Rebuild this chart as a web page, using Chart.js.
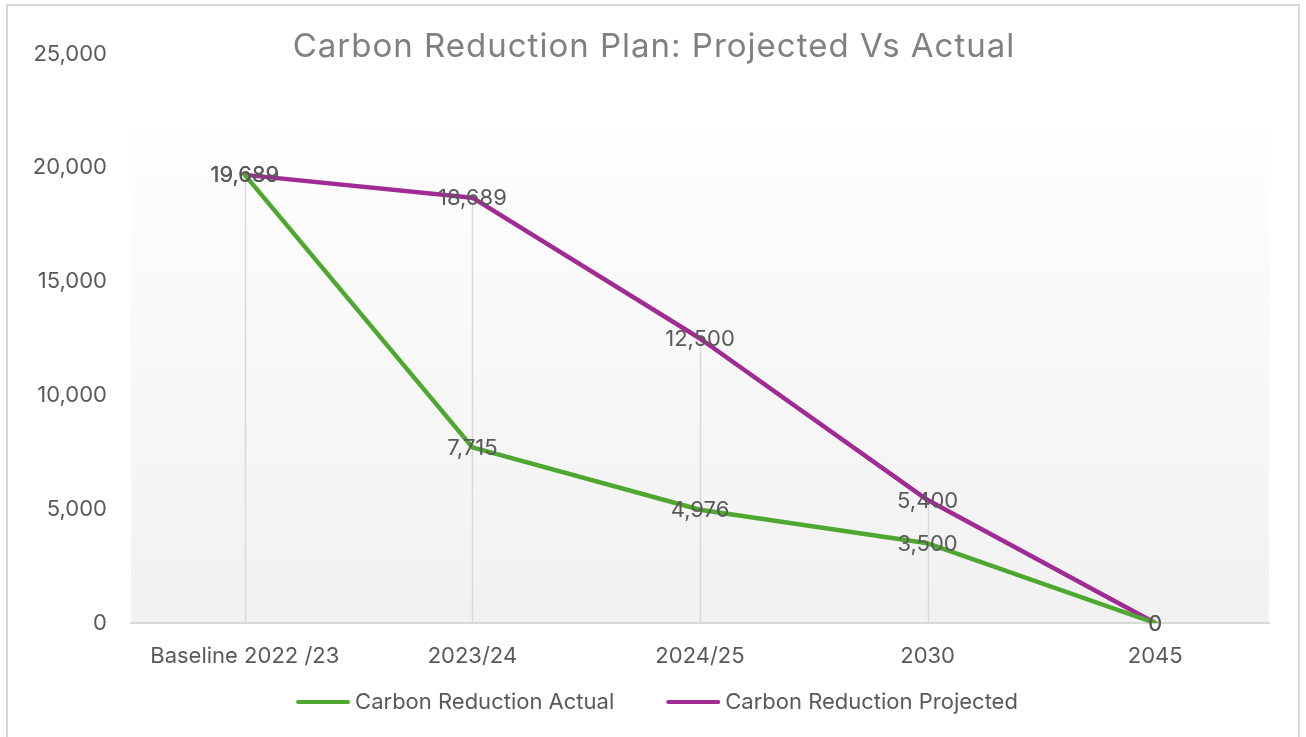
<!DOCTYPE html>
<html>
<head>
<meta charset="utf-8">
<script src="https://cdn.jsdelivr.net/npm/chart.js@4/dist/chart.umd.min.js"></script>
<style>
  html, body { margin: 0; padding: 0; background: #fff; }
  #cadre { width: 1306px; height: 737px; }
</style>
</head>
<body>
<div id="cadre"><canvas id="graphique"></canvas></div>
<script>
const CATEGORIES = ['Baseline 2022 /23', '2023/24', '2024/25', '2030', '2045'];
const REDUCTION_ACTUELLE = [19689, 7715, 4976, 3500, 0];
const REDUCTION_PROJETEE = [19689, 18689, 12500, 5400, 0];
const GRADUATIONS_Y = [0, 5000, 10000, 15000, 20000, 25000];

const TITRE = 'Carbon Reduction Plan: Projected Vs Actual';

const PALETTE = {
  VERT: '#4ea72e',
  VIOLET: '#a02b93',
  TEXTE: '#595959',
  TITRE: '#808080',
  TRAIT: '#d9d9d9',
};

const POLICE = 'Inter, "Liberation Sans", sans-serif';

const formateNombre = (valeur) => Number(valeur).toLocaleString('en-US');

// fond dégradé, cadre, lignes de projection
const decor = {
  id: 'decor',
  beforeDraw: (chart) => {
    const { ctx, chartArea, width, height } = chart;
    ctx.save();
    const haut = chartArea.top + 75;
    const degrade = ctx.createLinearGradient(0, haut, 0, chartArea.bottom);
    degrade.addColorStop(0, '#fefefe');
    degrade.addColorStop(1, '#f1f1f1');
    ctx.fillStyle = degrade;
    ctx.fillRect(chartArea.left, haut, chartArea.right - chartArea.left, chartArea.bottom - haut);
    ctx.strokeStyle = PALETTE.TRAIT;
    ctx.lineWidth = 2;
    ctx.strokeRect(7, 5, width - 14, height + 10);
    ctx.restore();
  },
  beforeDatasetsDraw: (chart) => {
    const { ctx, scales: { x, y } } = chart;
    ctx.save();
    ctx.strokeStyle = PALETTE.TRAIT;
    ctx.lineWidth = 1.5;
    CATEGORIES.forEach((categorie, i) => {
      const max = Math.max(REDUCTION_ACTUELLE[i], REDUCTION_PROJETEE[i]);
      if (max <= 0) return;
      const px = Math.round(x.getPixelForValue(i)) + 0.5;
      ctx.beginPath();
      ctx.moveTo(px, y.getPixelForValue(max));
      ctx.lineTo(px, y.getPixelForValue(0));
      ctx.stroke();
    });
    ctx.restore();
  },
  afterDatasetsDraw: (chart) => {
    const { ctx, width } = chart;
    ctx.save();
    // étiquettes de données
    ctx.font = `22px ${POLICE}`;
    ctx.fillStyle = PALETTE.TEXTE;
    ctx.textAlign = 'center';
    ctx.textBaseline = 'middle';
    chart.data.datasets.forEach((jeu, d) => {
      chart.getDatasetMeta(d).data.forEach((point, i) => {
        ctx.fillText(formateNombre(jeu.data[i]), point.x, point.y + 1);
      });
    });

    // titre
    ctx.font = `33px ${POLICE}`;
    ctx.letterSpacing = '1px';
    ctx.fillStyle = PALETTE.TITRE;
    ctx.fillText(TITRE, width / 2 + 1, 47);
    ctx.letterSpacing = '0px';

    // légende
    ctx.font = `22px ${POLICE}`;
    const largeurTrait = 54;
    const ecart = 5;
    const espace = 52;
    const elements = chart.data.datasets.map((jeu) => ({
      texte: jeu.label,
      couleur: jeu.borderColor,
      largeur: largeurTrait + ecart + ctx.measureText(jeu.label).width,
    }));
    const total = elements.reduce((s, e) => s + e.largeur, 0) + espace * (elements.length - 1);
    let cx = width / 2 + 4 - total / 2;
    const cy = 702;
    ctx.textAlign = 'left';
    elements.forEach((e) => {
      ctx.strokeStyle = e.couleur;
      ctx.lineWidth = 4;
      ctx.lineCap = 'round';
      ctx.beginPath();
      ctx.moveTo(cx + 2, cy);
      ctx.lineTo(cx + largeurTrait - 2, cy);
      ctx.stroke();
      ctx.fillStyle = PALETTE.TEXTE;
      ctx.fillText(e.texte, cx + largeurTrait + ecart, cy);
      cx += e.largeur + espace;
    });
    ctx.restore();
  },
};

const dessineGraphique = ($canevas) => {
  /* eslint-disable no-new */
  new Chart($canevas, {
    type: 'line',
    plugins: [decor],
    data: {
      labels: CATEGORIES,
      datasets: [
        {
          label: 'Carbon Reduction Actual',
          data: REDUCTION_ACTUELLE,
          borderColor: PALETTE.VERT,
          backgroundColor: PALETTE.VERT,
        },
        {
          label: 'Carbon Reduction Projected',
          data: REDUCTION_PROJETEE,
          borderColor: PALETTE.VIOLET,
          backgroundColor: PALETTE.VIOLET,
        },
      ],
    },
    options: {
      responsive: true,
      maintainAspectRatio: false,
      animation: false,
      events: [],
      layout: { padding: { left: 0, top: 54, right: 37, bottom: 0 } },
      elements: {
        line: { borderWidth: 4.5, tension: 0, borderCapStyle: 'round', borderJoinStyle: 'round' },
        point: { radius: 0 },
      },
      plugins: {
        legend: { display: false },
        title: { display: false },
        tooltip: { enabled: false },
      },
      scales: {
        x: {
          offset: true,
          grid: { display: false, drawTicks: false },
          border: { color: PALETTE.TRAIT, width: 2 },
          ticks: { color: PALETTE.TEXTE, font: { family: POLICE, size: 22 }, padding: 20, maxRotation: 0 },
          afterFit: (axe) => { axe.height = 114; },
        },
        y: {
          min: 0,
          max: 25000,
          grid: { display: false, drawTicks: false },
          border: { display: false },
          afterBuildTicks: (axe) => { axe.ticks = GRADUATIONS_Y.map((value) => ({ value })); },
          ticks: {
            color: PALETTE.TEXTE,
            font: { family: POLICE, size: 22 },
            padding: 24,
            callback: formateNombre,
          },
          afterFit: (axe) => { axe.width = 131; },
        },
      },
    },
  });
  /* eslint-enable no-new */
};

dessineGraphique(document.getElementById('graphique'));
</script>
</body>
</html>
